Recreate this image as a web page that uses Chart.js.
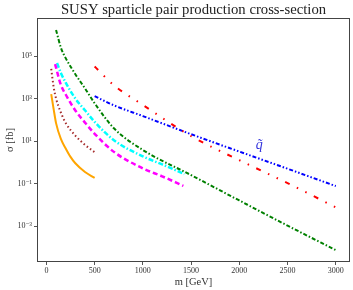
<!DOCTYPE html>
<html>
<head>
<meta charset="utf-8">
<script src="https://cdn.jsdelivr.net/npm/chart.js@4.4.0/dist/chart.umd.min.js"></script>
<style>
    html, body { margin: 0; padding: 0; background: #fff; }
</style>
</head>
<body>
<canvas id="xsecChart" width="353" height="290"></canvas>
<script>
const xTicks = [0, 500, 1000, 1500, 2000, 2500, 3000];
const yTicks = [1e-3, 1e-1, 1e1, 1e3, 1e5];
const yTickLabels = ['10⁻³', '10⁻¹', '10¹', '10³', '10⁵'];

// mass [GeV] and cross-section [fb] per curve
const greenMass = [100, 150, 200, 300, 400, 500, 700, 1000, 1500, 2000, 2500, 3000];
const greenXsec = [1.7e6, 2.5e5, 8e4, 1.4e4, 3.0e3, 6.0e2, 40, 3.8, 0.25, 1.6e-2, 1.05e-3, 7.4e-5];

const blueMass = [500, 700, 1000, 1500, 2000, 2500, 3000];
const blueXsec = [1.3e3, 4.8e2, 1.5e2, 21, 3.2, 0.5, 7.6e-2];

const redMass = [500, 700, 1000, 1500, 2000, 2500, 3000];
const redXsec = [3.2e4, 4.2e3, 5.0e2, 17, 1.26, 0.105, 7.6e-3];

const cyanMass = [110, 150, 200, 300, 400, 500, 700, 1000, 1200, 1430];
const cyanXsec = [4.7e4, 1.6e4, 5.6e3, 1.0e3, 2.8e2, 80, 11, 1.9, 0.8, 0.28];

const magentaMass = [90, 150, 200, 300, 400, 500, 700, 1000, 1200, 1420];
const magentaXsec = [4.2e4, 4.4e3, 1.55e3, 2.75e2, 74, 22, 3.1, 0.52, 0.22, 0.078];

const brownMass = [50, 75, 100, 150, 200, 300, 400, 500];
const brownXsec = [2.5e4, 3.5e3, 1.0e3, 2.2e2, 71, 18, 6.6, 3.0];

const orangeMass = [50, 75, 100, 150, 200, 250, 300, 400, 500];
const orangeXsec = [1.6e3, 3.2e2, 70, 12.6, 4.5, 1.8, 0.9, 0.35, 0.185];

const chartTitle = 'SUSY sparticle pair production cross-section';
const squarkLabel = { text: 'q\u0303', mass: 2206, xsec: 6.5 };

const serif = "'Liberation Serif', 'DejaVu Serif', serif";

function toPoints(mass, xsec) {
    return mass.map((m, i) => ({ x: m, y: xsec[i] }));
}

function makeSeries(mass, xsec, color, dash, width) {
    return {
        data: toPoints(mass, xsec),
        borderColor: color,
        borderWidth: width,
        borderDash: dash,
        pointRadius: 0,
        fill: false,
        cubicInterpolationMode: 'monotone'
    };
}

// title centred over the plot box, box frame, squark label
const framePlugin = {
    id: 'frame',
    afterDatasetsDraw(chart) {
        const { ctx, chartArea, scales } = chart;
        ctx.save();
        ctx.textAlign = 'center';
        ctx.textBaseline = 'middle';

        ctx.font = "14.7px " + serif;
        ctx.fillStyle = '#222';
        ctx.fillText(chartTitle, (chartArea.left + chartArea.right) / 2, 10.5);

        ctx.font = "italic 14px " + serif;
        ctx.fillStyle = '#3333dd';
        ctx.fillText(squarkLabel.text, scales.x.getPixelForValue(squarkLabel.mass), scales.y.getPixelForValue(squarkLabel.xsec));

        ctx.strokeStyle = '#444';
        ctx.lineWidth = 1;
        ctx.strokeRect(chartArea.left + 0.5, chartArea.top + 0.5, chartArea.width - 1, chartArea.height - 1);
        ctx.restore();
    }
};

const ctxChart = document.getElementById('xsecChart').getContext('2d');

const xsecChart = new Chart(ctxChart, {
    type: 'line',
    data: {
        datasets: [
            makeSeries(orangeMass, orangeXsec, '#ffa500', [], 2),
            makeSeries(brownMass, brownXsec, '#a52a2a', [1.5, 2.5], 2),
            makeSeries(magentaMass, magentaXsec, '#ff00ff', [5, 3], 2.5),
            makeSeries(cyanMass, cyanXsec, '#00ffff', [5, 2, 1.5, 2], 2.5),
            makeSeries(greenMass, greenXsec, '#008000', [4, 2, 1.5, 2], 2),
            makeSeries(redMass, redXsec, '#ff0000', [5, 8, 1.5, 8, 1.5, 8], 2),
            makeSeries(blueMass, blueXsec, '#0000ff', [4, 2, 1.5, 2, 1.5, 2], 2)
        ]
    },
    options: {
        responsive: false,
        animation: false,
        devicePixelRatio: 1,
        layout: { padding: { left: 0, right: 3, top: 18, bottom: 0 } },
        plugins: {
            legend: { display: false },
            tooltip: { enabled: false },
            title: { display: false }
        },
        scales: {
            x: {
                type: 'linear',
                min: -97.5,
                max: 3147.5,
                afterBuildTicks: scale => { scale.ticks = xTicks.map(v => ({ value: v })); },
                afterFit: scale => { scale.height = 28; },
                grid: { drawOnChartArea: false, drawTicks: true, tickLength: 3, color: '#555' },
                border: { display: false },
                ticks: {
                    color: '#333',
                    padding: 1,
                    maxRotation: 0,
                    autoSkip: false,
                    font: { family: serif, size: 8 },
                    callback: value => String(value)
                },
                title: {
                    display: true,
                    text: 'm [GeV]',
                    color: '#333',
                    font: { family: serif, size: 10.5, lineHeight: '12px' },
                    padding: { top: 0, bottom: 2 }
                }
            },
            y: {
                type: 'logarithmic',
                min: Math.pow(10, -4.69),
                max: Math.pow(10, 6.79),
                afterBuildTicks: scale => { scale.ticks = yTicks.map(v => ({ value: v })); },
                afterFit: scale => { scale.width = 37; },
                grid: { drawOnChartArea: false, drawTicks: true, tickLength: 3, color: '#555' },
                border: { display: false },
                ticks: {
                    color: '#333',
                    padding: 2,
                    autoSkip: false,
                    font: { family: serif, size: 8 },
                    callback: value => {
                        const i = yTicks.indexOf(value);
                        return i >= 0 ? yTickLabels[i] : '';
                    }
                },
                title: {
                    display: true,
                    text: 'σ [fb]',
                    color: '#333',
                    font: { family: serif, size: 10.5, lineHeight: '12px' },
                    padding: { top: 4, bottom: 0 }
                }
            }
        }
    },
    plugins: [framePlugin]
});
</script>
</body>
</html>
